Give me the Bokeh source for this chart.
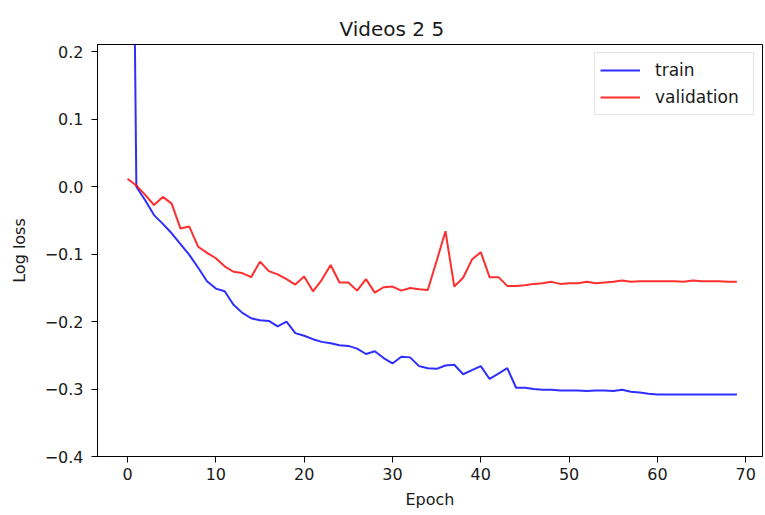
from bokeh.plotting import figure
from bokeh.models import Range1d, FixedTicker, CustomJSTickFormatter, Legend, LegendItem
from bokeh.embed import file_html
from bokeh.resources import INLINE

epochs = list(range(70))
train = [1.3, 0.0, -0.02, -0.042, -0.055, -0.069, -0.085, -0.101, -0.12, -0.14,
         -0.151, -0.155, -0.175, -0.187, -0.195, -0.198, -0.199, -0.207, -0.200, -0.217,
         -0.221, -0.226, -0.230, -0.232, -0.235, -0.236, -0.240, -0.248, -0.244, -0.254,
         -0.262, -0.252, -0.253, -0.266, -0.269, -0.270, -0.265, -0.264, -0.278, -0.272,
         -0.266, -0.285, -0.277, -0.269, -0.298, -0.298, -0.300, -0.301, -0.301, -0.302,
         -0.302, -0.302, -0.303, -0.302, -0.302, -0.303, -0.301, -0.304, -0.305, -0.307,
         -0.308, -0.308, -0.308, -0.308, -0.308, -0.308, -0.308, -0.308, -0.308, -0.308]
validation = [0.012, 0.002, -0.012, -0.027, -0.015, -0.025, -0.062, -0.059, -0.089, -0.098,
              -0.106, -0.118, -0.126, -0.128, -0.134, -0.111, -0.125, -0.130, -0.137, -0.145,
              -0.133, -0.155, -0.138, -0.116, -0.142, -0.142, -0.154, -0.137, -0.157, -0.149,
              -0.148, -0.154, -0.150, -0.152, -0.153, -0.110, -0.066, -0.148, -0.135, -0.108,
              -0.097, -0.134, -0.134, -0.147, -0.147, -0.146, -0.144, -0.143, -0.141, -0.144,
              -0.143, -0.143, -0.141, -0.143, -0.142, -0.141, -0.139, -0.141, -0.140, -0.140,
              -0.140, -0.140, -0.140, -0.141, -0.139, -0.140, -0.140, -0.140, -0.141, -0.141]
x_ticks = [0, 10, 20, 30, 40, 50, 60, 70]
y_ticks = [-0.4, -0.3, -0.2, -0.1, 0.0, 0.1, 0.2]

FONT = "DejaVu Sans"
TXT = "#1a1a1a"

p = figure(width=765, height=515, output_backend="svg", toolbar_location=None,
           x_range=Range1d(-3.4, 71.9), y_range=Range1d(-0.4, 0.211),
           min_border_left=97, min_border_right=3, min_border_top=44, min_border_bottom=59)

p.title.text = "Videos 2 5"
p.title.align = "left"
p.title.offset = 242
p.title.text_font = FONT
p.title.text_font_size = "20px"
p.title.text_font_style = "normal"
p.title.text_color = TXT
p.title.standoff = 8

p.xgrid.visible = False
p.ygrid.visible = False
p.outline_line_color = "black"
p.outline_line_width = 1
p.outline_line_alpha = 1.0

for ax in (p.xaxis[0], p.yaxis[0]):
    ax.major_label_text_font = FONT
    ax.major_label_text_font_size = "16px"
    ax.major_label_text_color = TXT
    ax.axis_label_text_font = FONT
    ax.axis_label_text_font_size = "16px"
    ax.axis_label_text_font_style = "normal"
    ax.axis_label_text_color = TXT
    ax.minor_tick_line_color = None
    ax.major_tick_in = 0
    ax.major_tick_out = 6
    ax.major_tick_line_color = "black"
    ax.axis_line_color = "black"
    ax.major_label_standoff = 5

p.yaxis.major_label_standoff = 8
p.xaxis.ticker = FixedTicker(ticks=x_ticks)
p.yaxis.ticker = FixedTicker(ticks=y_ticks)
p.yaxis.formatter = CustomJSTickFormatter(code="return tick.toFixed(1).replace('-', '\\u2212');")
p.xaxis.axis_label = "Epoch"
p.yaxis.axis_label = "Log loss"
p.xaxis.axis_label_standoff = 7
p.yaxis.axis_label_standoff = 13

r1 = p.line(epochs, train, line_color="#0000ff", line_alpha=0.82, line_width=2)
r2 = p.line(epochs, validation, line_color="#ff0000", line_alpha=0.82, line_width=2)

legend = Legend(items=[LegendItem(label="train", renderers=[r1]),
                       LegendItem(label="validation", renderers=[r2])],
                location="top_right")
legend.margin = 8
legend.padding = 5
legend.spacing = 3
legend.glyph_width = 40
legend.glyph_height = 24
legend.label_height = 24
legend.label_width = 93
legend.label_standoff = 15
legend.label_text_font = FONT
legend.label_text_font_size = "17px"
legend.label_text_color = TXT
legend.border_line_color = "#cccccc"
legend.border_line_width = 1
legend.background_fill_alpha = 0.8
p.add_layout(legend)

open("out.html", "w").write(file_html(p, INLINE))
